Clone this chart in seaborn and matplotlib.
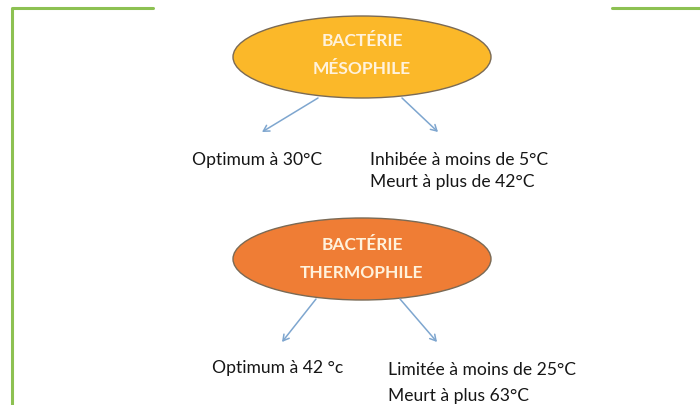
import matplotlib
matplotlib.use("Agg")
import matplotlib.pyplot as plt
from matplotlib.patches import Ellipse
import pandas as pd
import seaborn as sns

# Contenu du schéma
titres = ["BACTÉRIE\nMÉSOPHILE", "BACTÉRIE\nTHERMOPHILE"]
couleurs = ["#FBB829", "#EF7D35"]
textes_gauche = ["Optimum à 30°C", "Optimum à 42 °c"]
textes_droite = ["Inhibée à moins de 5°C\nMeurt à plus de 42°C",
                 "Limitée à moins de 25°C\nMeurt à plus 63°C"]

# Mise en page (pixels)
centres_ellipse = [(362, 57), (362, 259)]
taille_ellipse = (258, 82)
centres_titre = [(362, 55), (362, 259)]
interligne_titre = [1.9, 1.85]
fleches_gauche = [((318, 98), (262, 132)), ((316, 299), (282, 342))]
fleches_droite = [((402, 98), (438, 132)), ((400, 299), (437, 342))]
pos_gauche = [(192, 160), (212, 368)]
pos_droite = [(370, 171), (388, 383)]
interligne_droite = [1.45, 1.75]

# Cadre vert
cadre = pd.DataFrame({
    "x": [153, 12, 12, 612, 700],
    "y": [8, 8, 405, 8, 8],
    "seg": ["a", "a", "a", "b", "b"],
})

sns.set_theme(style="white")
plt.rcParams["font.family"] = ["Lato", "DejaVu Sans"]

fig = plt.figure(figsize=(7, 4.05), dpi=100)
ax = fig.add_axes([0, 0, 1, 1])
ax.set_xlim(0, 700)
ax.set_ylim(405, 0)
ax.axis("off")

sns.lineplot(data=cadre, x="x", y="y", units="seg", estimator=None,
             sort=False, color="#8DC152", linewidth=2.2, ax=ax)

for i in range(2):
    cx, cy = centres_ellipse[i]
    ax.add_patch(Ellipse((cx, cy), taille_ellipse[0], taille_ellipse[1],
                         facecolor=couleurs[i], edgecolor="#7a6a55",
                         linewidth=1.0, zorder=2))
    ax.text(*centres_titre[i], titres[i], ha="center", va="center",
            color="#FFF2DC", fontsize=12.5, fontweight="bold",
            linespacing=interligne_titre[i], zorder=3)

    for (x0, y0), (x1, y1) in [fleches_gauche[i], fleches_droite[i]]:
        ax.annotate("", xy=(x1, y1), xytext=(x0, y0),
                    arrowprops=dict(arrowstyle="->,head_length=0.35,head_width=0.2",
                                    color="#7EA6CF", lw=1.1,
                                    shrinkA=0, shrinkB=0), zorder=3)

    ax.text(*pos_gauche[i], textes_gauche[i], ha="left", va="center",
            color="#161616", fontsize=12.6)
    ax.text(*pos_droite[i], textes_droite[i], ha="left", va="center",
            color="#161616", fontsize=12.6, linespacing=interligne_droite[i])

fig.savefig("out.png", dpi=100)
